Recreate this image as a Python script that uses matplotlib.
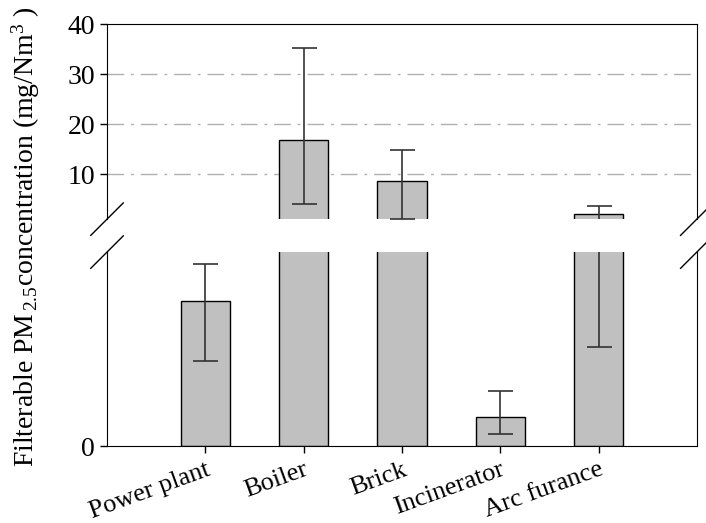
import numpy as np
import matplotlib.pyplot as plt

plt.rcParams['font.family'] = ['Liberation Serif', 'DejaVu Serif']
plt.rcParams['mathtext.fontset'] = 'custom'
plt.rcParams['mathtext.rm'] = 'Liberation Serif'
plt.rcParams['mathtext.it'] = 'Liberation Serif'

categories = ["Power plant", "Boiler", "Brick", "Incinerator", "Arc furance"]
means = [0.75, 16.9, 8.6, 0.148, 2.06]
err_low = [0.31, 12.9, 7.6, 0.083, 1.55]
err_high = [0.19, 18.3, 6.3, 0.137, 1.6]

x = np.arange(1, len(categories) + 1)
means_a = np.array(means)
lo = np.array(err_low)
hi = np.array(err_high)

top_lim = (1, 40)
bot_lim = (0, 1)

fig = plt.figure(figsize=(7.06, 5.23), dpi=100)
ax_top = fig.add_axes([0.1516, 0.581, 0.8354, 0.373])
ax_bot = fig.add_axes([0.1516, 0.147, 0.8354, 0.371])

# which error bars belong to which panel
in_top = means_a >= top_lim[0]
in_bot = (means_a < top_lim[0]) | (means_a - lo < top_lim[0])

for ax, sel in ((ax_top, in_top), (ax_bot, in_bot)):
    ax.bar(x, means, width=0.5, color="#c0c0c0", edgecolor="black", linewidth=1.0, zorder=2)
    ax.errorbar(x[sel], means_a[sel], yerr=[lo[sel], hi[sel]], fmt="none", ecolor="#333333",
                elinewidth=1.2, capsize=9, capthick=1.2, zorder=3)
    ax.set_xlim(0, 6)
    ax.tick_params(axis="both", direction="out", length=5, width=1, labelsize=20)

ax_top.set_ylim(*top_lim)
ax_top.set_yticks([10, 20, 30, 40])
ax_top.spines["bottom"].set_visible(False)
ax_top.tick_params(axis="x", bottom=False, labelbottom=False)
for v in [10, 20, 30]:
    ax_top.axhline(v, color="#b0b0b0", linestyle=(0, (12, 5, 2, 5)), linewidth=1, zorder=1)

ax_bot.set_ylim(*bot_lim)
ax_bot.set_yticks([0])
ax_bot.spines["top"].set_visible(False)
ax_bot.set_xticks(x)
ax_bot.set_xticklabels(categories, rotation=20, ha="right", rotation_mode="anchor")
ax_bot.tick_params(axis="x", labelsize=19, pad=4)

# break marks
kw = dict(transform=fig.transFigure, color="black", linewidth=1, clip_on=False)
for xs in (0.1516, 0.987):
    for yc in (0.581, 0.518):
        fig.add_artist(plt.Line2D([xs - 0.023, xs + 0.023], [yc - 0.031, yc + 0.031], **kw))

fig.text(0.036, 0.548, r"Filterable PM$_{\,\mathregular{2.5}}$concentration (mg/Nm$^{\mathregular{3}}$ )",
         rotation=90, ha="center", va="center", fontsize=20)

fig.savefig("out.png", dpi=100)
